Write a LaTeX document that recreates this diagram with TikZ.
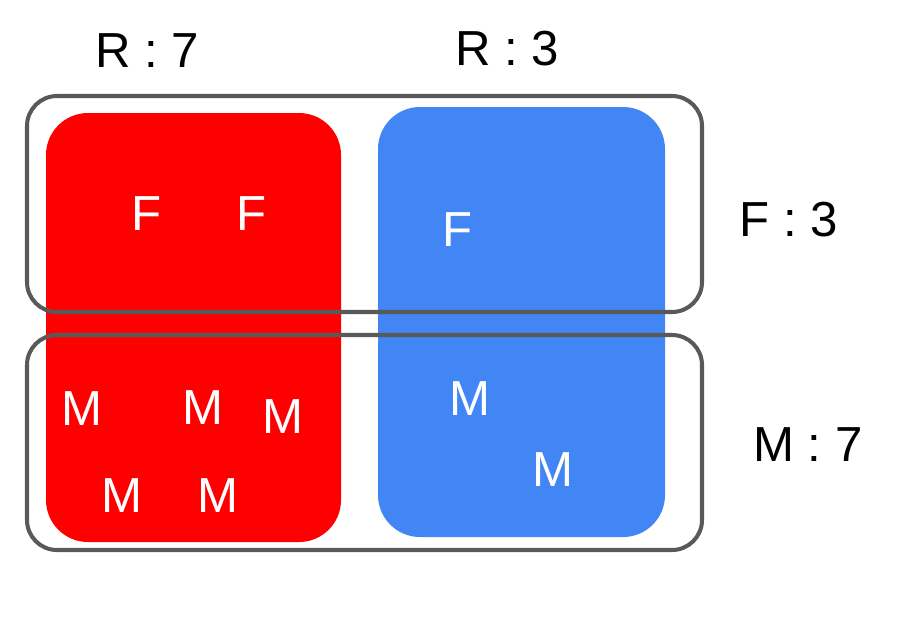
\documentclass[tikz,border=0pt]{standalone}
\usepackage{fontspec}
\setmainfont{Liberation Sans}
\definecolor{boxred}{HTML}{FF0000}
\definecolor{boxblue}{HTML}{4285F4}
\definecolor{framegray}{HTML}{595959}
\tikzset{
  group/.style={rounded corners=0.84cm},
  frame/.style={draw=framegray,line width=2.3pt,rounded corners=0.6cm},
  inlabel/.style={text=white,inner sep=0pt,font=\fontsize{28}{34}\selectfont},
  outlabel/.style={text=black,inner sep=0pt,font=\fontsize{28}{34}\selectfont}
}
\begin{document}
\begin{tikzpicture}[x=0.02cm,y=-0.02cm]
\useasboundingbox (0,0) rectangle (898,616);
% Colour groups
\fill[boxred,group] (46,113) rectangle (341,542);
\fill[boxblue,group] (378,107) rectangle (665,537);

% Frames for F and M
\draw[frame] (27,96) rectangle (702,312);
\draw[frame] (27,335) rectangle (702,550);

% Outside labels
\node[outlabel] (r7) at (147,51) {R : 7};
\node[outlabel] (r3) at (507,49) {R : 3};
\node[outlabel] (f3) at (789,220) {F : 3};
\node[outlabel] (m7) at (808,445) {M : 7};

% Letters in the red group
\node[inlabel] (fa) at (147,214) {F};
\node[inlabel] (fb) at (252,214) {F};
\node[inlabel] (ma) at (82,409) {M};
\node[inlabel] (mb) at (203,408) {M};
\node[inlabel] (mc) at (283,417) {M};
\node[inlabel] (md) at (122,496) {M};
\node[inlabel] (me) at (218,496) {M};

% Letters in the blue group
\node[inlabel] (fc) at (458,230) {F};
\node[inlabel] (mf) at (470,399) {M};
\node[inlabel] (mg) at (553,470) {M};
\end{tikzpicture}
\end{document}
